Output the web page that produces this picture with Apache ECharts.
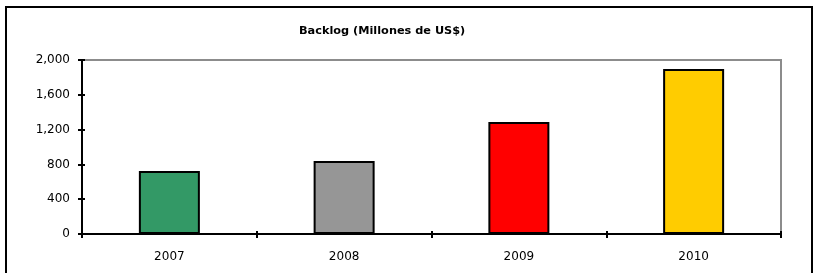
<!DOCTYPE html>
<html>
<head>
<meta charset="utf-8">
<script src="https://cdn.jsdelivr.net/npm/echarts@6/dist/echarts.min.js"></script>
<style>
    html, body { margin: 0; padding: 0; background: #fff; }
    #wrap { position: relative; width: 819px; height: 273px; overflow: hidden; }
    #frame { position: absolute; left: 5px; top: 6px; width: 808px; height: 300px; border: 2px solid #000; box-sizing: border-box; }
    #myChart { position: absolute; left: 0; top: 0; width: 819px; height: 273px; }
</style>
</head>
<body>
<div id="wrap">
    <div id="frame"></div>
    <div id="myChart"></div>
</div>
<script>
    let years = ['2007', '2008', '2009', '2010'];
    let backlog = [724, 838, 1288, 1896];
    let barColors = ['#339966', '#969696', '#ff0000', '#ffcc00'];
    let yTicks = [0, 400, 800, 1200, 1600, 2000];

    let font = 'DejaVu Sans';

    // 初始化
    let myChart = echarts.init(document.getElementById('myChart'));

    // 刻度线穿过坐标轴：外侧一份，内侧再叠一份
    let tickStyle = { color: '#000', width: 2 };

    let option = {
        animation: false,
        title: {
            text: 'Backlog (Millones de US$)',
            left: 294,
            top: 21,
            textStyle: { fontFamily: font, fontSize: 11.3, fontWeight: 'bold', color: '#000' }
        },
        grid: {
            left: 82, right: 38, top: 60, bottom: 39,
            show: true,
            borderColor: '#8c8c8c',
            borderWidth: 2
        },
        xAxis: [{
            type: 'category',
            data: years,
            axisLine: { lineStyle: { color: '#000', width: 2 } },
            axisTick: { show: true, length: 4, lineStyle: tickStyle },
            axisLabel: { color: '#000', fontFamily: font, fontSize: 12, margin: 17 }
        }, {
            type: 'category',
            data: years,
            position: 'bottom',
            axisLine: { show: false },
            axisTick: { show: true, inside: true, length: 3, lineStyle: tickStyle },
            axisLabel: { show: false }
        }],
        yAxis: [{
            type: 'value',
            min: yTicks[0],
            max: yTicks[yTicks.length - 1],
            interval: 400,
            splitLine: { show: false },
            axisLine: { show: true, lineStyle: { color: '#000', width: 2 } },
            axisTick: { show: true, length: 4, lineStyle: tickStyle },
            axisLabel: {
                color: '#000', fontFamily: font, fontSize: 12, margin: 12,
                formatter: function (v) { return v.toLocaleString('en-US'); }
            }
        }, {
            type: 'value',
            position: 'left',
            min: yTicks[0],
            max: yTicks[yTicks.length - 1],
            interval: 400,
            splitLine: { show: false },
            axisLine: { show: false },
            axisTick: { show: true, inside: true, length: 3, lineStyle: tickStyle },
            axisLabel: { show: false }
        }],
        series: [{
            type: 'bar',
            barWidth: 61,
            data: backlog.map(function (v, i) {
                return { value: v, itemStyle: { color: barColors[i] } };
            }),
            itemStyle: { borderColor: '#000', borderWidth: 2 }
        }]
    };

    myChart.setOption(option);
</script>
</body>
</html>
